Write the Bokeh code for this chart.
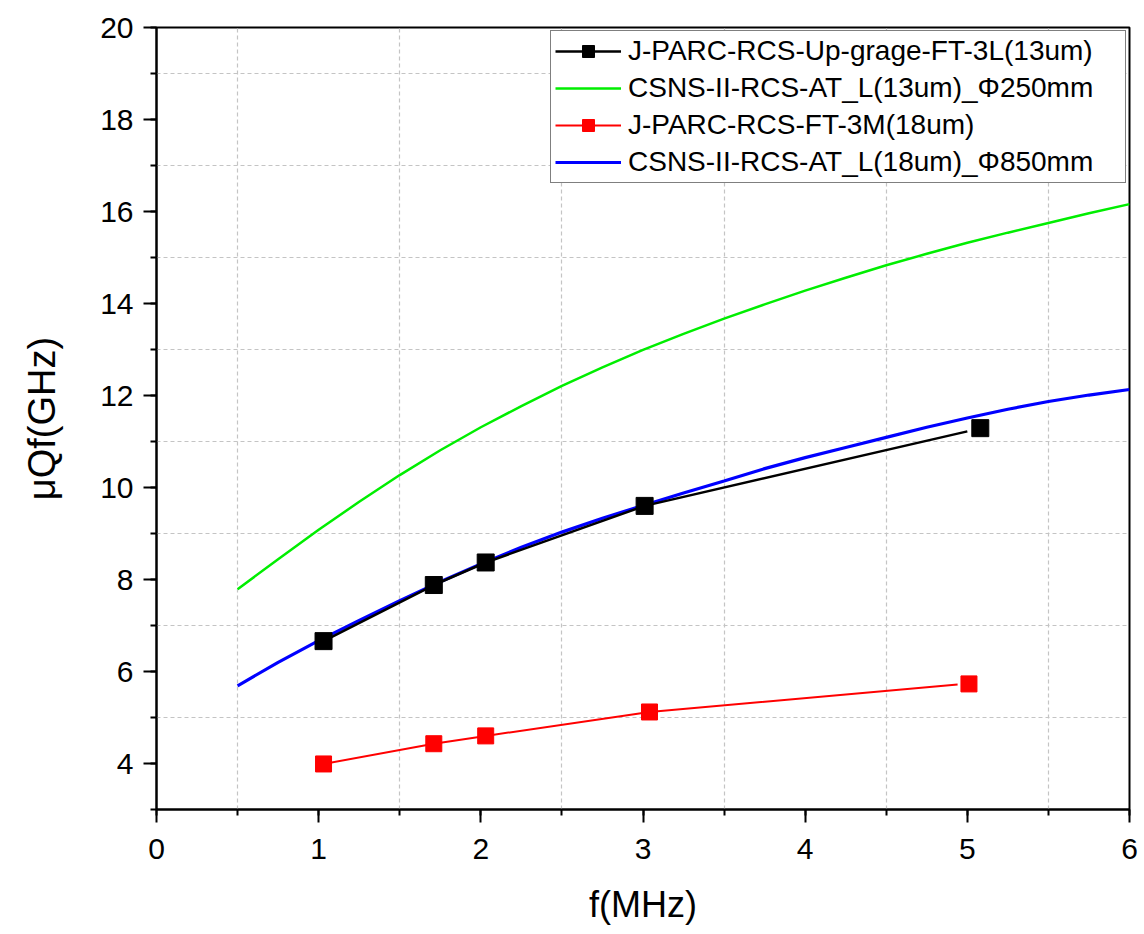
from bokeh.plotting import figure
from bokeh.models import (SingleIntervalTicker, FixedTicker, Legend, LegendItem, Range1d)
from bokeh.embed import file_html
from bokeh.resources import INLINE

# ---- data ----
up_x = [1.03, 1.71, 2.03, 3.01, 5.08]
up_y = [6.66, 7.88, 8.37, 9.60, 11.29]
up_line_x = [1.03, 1.71, 2.03, 3.01, 5.00]
up_line_y = [6.66, 7.88, 8.37, 9.60, 11.22]

ft3m_x = [1.03, 1.71, 2.03, 3.04, 5.01]
ft3m_y = [3.99, 4.43, 4.60, 5.12, 5.73]
ft3m_line_x = [1.03, 1.71, 2.03, 3.04, 4.94]
ft3m_line_y = [3.99, 4.43, 4.60, 5.12, 5.72]

curve_x = [0.5, 0.75, 1.0, 1.25, 1.5, 1.75, 2.0, 2.25, 2.5, 2.75, 3.0, 3.25,
           3.5, 3.75, 4.0, 4.25, 4.5, 4.75, 5.0, 5.25, 5.5, 5.75, 6.0]
green_y = [7.79, 8.44, 9.08, 9.69, 10.27, 10.81, 11.31, 11.77, 12.21, 12.61,
           12.99, 13.34, 13.67, 13.98, 14.28, 14.56, 14.83, 15.08, 15.32, 15.54,
           15.75, 15.96, 16.16]
blue_y = [5.69, 6.20, 6.67, 7.11, 7.54, 7.95, 8.34, 8.70, 9.03, 9.33, 9.61,
          9.88, 10.14, 10.41, 10.65, 10.87, 11.09, 11.31, 11.51, 11.70, 11.87,
          12.01, 12.13]

labels = ["J-PARC-RCS-Up-grage-FT-3L(13um)",
          "CSNS-II-RCS-AT_L(13um)_\u03a6250mm",
          "J-PARC-RCS-FT-3M(18um)",
          "CSNS-II-RCS-AT_L(18um)_\u03a6850mm"]

x_major = 1
y_major = 2
x_grid = [0.5, 1.5, 2.5, 3.5, 4.5, 5.5]
y_grid = [5, 7, 9, 11, 13, 15, 17, 19]

FONT = "Liberation Sans"

p = figure(width=1144, height=934, output_backend="svg", toolbar_location=None,
           x_range=Range1d(0, 6), y_range=Range1d(3, 20),
           min_border_left=156, min_border_right=15, min_border_top=27,
           min_border_bottom=125)
p.background_fill_color = "white"
p.border_fill_color = "white"
p.outline_line_color = "black"
p.outline_line_width = 2

# axes
p.xaxis.ticker = SingleIntervalTicker(interval=x_major, num_minor_ticks=2)
p.yaxis.ticker = SingleIntervalTicker(interval=y_major, num_minor_ticks=2)
for ax in (p.xaxis, p.yaxis):
    ax.axis_line_width = 2
    ax.axis_line_color = "black"
    ax.major_tick_line_width = 2
    ax.major_tick_line_color = "black"
    ax.minor_tick_line_width = 2
    ax.minor_tick_line_color = "black"
    ax.major_tick_out = 13
    ax.major_tick_in = 0
    ax.minor_tick_out = 6
    ax.minor_tick_in = 0
    ax.major_label_text_font = FONT
    ax.major_label_text_font_size = "30px"
    ax.major_label_text_color = "black"
    ax.axis_label_text_font = FONT
    ax.axis_label_text_font_style = "normal"
    ax.axis_label_text_color = "black"
p.xaxis.axis_label_text_font_size = "36px"
p.yaxis.axis_label_text_font_size = "38px"
p.xaxis.major_label_standoff = 16
p.yaxis.major_label_standoff = 10
p.xaxis.axis_label = "f(MHz)"
p.yaxis.axis_label = "\u03bcQf(GHz)"
p.xaxis.axis_label_standoff = 22
p.yaxis.axis_label_standoff = 34

# grid at the minor positions only
p.xgrid.ticker = FixedTicker(ticks=x_grid)
p.ygrid.ticker = FixedTicker(ticks=y_grid)
for g in (p.xgrid, p.ygrid):
    g.grid_line_color = "#c4c4c4"
    g.grid_line_dash = "4 3"
    g.grid_line_width = 1.2
    g.minor_grid_line_color = None

# series
g_line = p.line(curve_x, green_y, line_color="#00ee00", line_width=2.5)
b_line = p.line(curve_x, blue_y, line_color="#0000ff", line_width=3.2)
k_line = p.line(up_line_x, up_line_y, line_color="black", line_width=2.5)
k_pts = p.scatter(up_x, up_y, marker="square", size=17, fill_color="black",
                  line_color="black")
r_line = p.line(ft3m_line_x, ft3m_line_y, line_color="#ff0000", line_width=2)
r_pts = p.scatter(ft3m_x, ft3m_y, marker="square", size=16, fill_color="#ff0000",
                  line_color="#ff0000")

legend = Legend(items=[
    LegendItem(label=labels[0], renderers=[k_line, k_pts]),
    LegendItem(label=labels[1], renderers=[g_line]),
    LegendItem(label=labels[2], renderers=[r_line, r_pts]),
    LegendItem(label=labels[3], renderers=[b_line]),
], location="top_right")
legend.margin = 3
legend.padding = 4
legend.spacing = 5
legend.label_height = 30
legend.glyph_height = 30
legend.glyph_width = 66
legend.label_standoff = 7
legend.label_width = 493
legend.label_text_font = FONT
legend.label_text_font_size = "28px"
legend.label_text_color = "black"
legend.border_line_color = "black"
legend.border_line_width = 1.5
legend.background_fill_color = "white"
legend.background_fill_alpha = 1
p.add_layout(legend, "center")

open("out.html", "w").write(file_html(p, INLINE))
